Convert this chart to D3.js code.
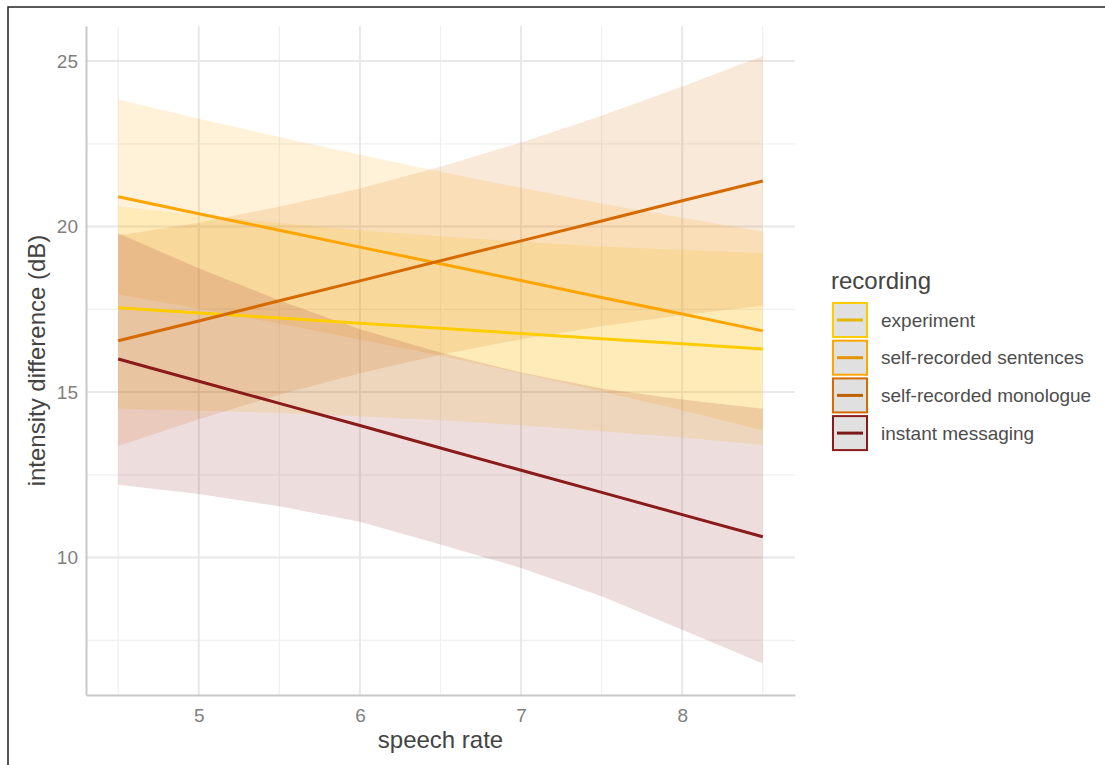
<!DOCTYPE html>
<html>
<head>
<meta charset="utf-8">
<script src="https://cdn.jsdelivr.net/npm/d3@7"></script>
<style>
  body { margin: 0; background: #fff; }
  svg { display: block; font-family: "Liberation Sans", Arial, sans-serif; }
</style>
</head>
<body>
<svg width="1105" height="765"></svg>
<script>
// speech rate values where the predictions were read
const speechRate = [4.5, 5, 5.5, 6, 6.5, 7, 7.5, 8, 8.5];

const recordings = ["experiment", "self-recorded sentences", "self-recorded monologue", "instant messaging"];
const colors = ["#FFCC00", "#FFA500", "#D56A00", "#8B1A1A"];

const expFit = [17.55, 17.39, 17.24, 17.08, 16.93, 16.77, 16.61, 16.46, 16.30];
const expLow = [14.49, 14.44, 14.37, 14.27, 14.15, 14.00, 13.82, 13.63, 13.40];
const expHigh = [20.61, 20.35, 20.11, 19.89, 19.71, 19.54, 19.40, 19.29, 19.20];

const sentFit = [20.90, 20.39, 19.89, 19.38, 18.88, 18.37, 17.86, 17.36, 16.85];
const sentLow = [17.95, 17.52, 17.07, 16.59, 16.10, 15.57, 15.02, 14.45, 13.85];
const sentHigh = [23.85, 23.26, 22.71, 22.17, 21.66, 21.17, 20.70, 20.27, 19.85];

const monoFit = [16.55, 17.15, 17.76, 18.36, 18.97, 19.57, 20.17, 20.78, 21.38];
const monoLow = [13.37, 14.18, 14.92, 15.57, 16.13, 16.60, 16.99, 17.33, 17.61];
const monoHigh = [19.73, 20.12, 20.60, 21.15, 21.81, 22.54, 23.35, 24.23, 25.15];

const imFit = [16.00, 15.33, 14.66, 13.99, 13.31, 12.64, 11.97, 11.30, 10.63];
const imLow = [12.20, 11.92, 11.55, 11.08, 10.40, 9.69, 8.83, 7.82, 6.80];
const imHigh = [19.80, 18.74, 17.77, 16.90, 16.20, 15.59, 15.11, 14.78, 14.50];

const xTicks = [5, 6, 7, 8];
const yTicks = [10, 15, 20, 25];

const fits = [expFit, sentFit, monoFit, imFit];
const lows = [expLow, sentLow, monoLow, imLow];
const highs = [expHigh, sentHigh, monoHigh, imHigh];

const series = recordings.map((name, i) => ({
  name: name,
  color: colors[i],
  points: speechRate.map((x, j) => ({ x: x, fit: fits[i][j], lo: lows[i][j], hi: highs[i][j] }))
}));

const svg = d3.select("svg");

// outer frame
svg.append("rect")
  .attr("x", 8).attr("y", 7)
  .attr("width", 1120).attr("height", 780)
  .attr("fill", "none").attr("stroke", "#222").attr("stroke-width", 1.5);

const panelLeft = 86, panelRight = 795, panelTop = 26, panelBottom = 695;

const x = d3.scaleLinear().domain([4.3, 8.7]).range([panelLeft, panelRight]);
const y = d3.scaleLinear().domain([5.85, 26.06]).range([panelBottom, panelTop]);

// grid
const grid = svg.append("g");
const minorX = d3.range(4.5, 8.51, 1);
const minorY = [7.5, 12.5, 17.5, 22.5];
grid.selectAll(".minx").data(minorX).enter().append("line")
  .attr("x1", d => x(d)).attr("x2", d => x(d)).attr("y1", panelTop).attr("y2", panelBottom)
  .attr("stroke", "#f0f0f0").attr("stroke-width", 1.2);
grid.selectAll(".miny").data(minorY).enter().append("line")
  .attr("y1", d => y(d)).attr("y2", d => y(d)).attr("x1", panelLeft).attr("x2", panelRight)
  .attr("stroke", "#f0f0f0").attr("stroke-width", 1.2);
grid.selectAll(".majx").data(xTicks).enter().append("line")
  .attr("x1", d => x(d)).attr("x2", d => x(d)).attr("y1", panelTop).attr("y2", panelBottom)
  .attr("stroke", "#e8e8e8").attr("stroke-width", 2);
grid.selectAll(".majy").data(yTicks).enter().append("line")
  .attr("y1", d => y(d)).attr("y2", d => y(d)).attr("x1", panelLeft).attr("x2", panelRight)
  .attr("stroke", "#e8e8e8").attr("stroke-width", 2);

// ribbons
const area = d3.area()
  .x(d => x(d.x))
  .y0(d => y(d.lo))
  .y1(d => y(d.hi));

svg.append("g").selectAll("path").data(series).enter().append("path")
  .attr("d", d => area(d.points))
  .attr("fill", d => d.color)
  .attr("fill-opacity", 0.15);

// fitted lines
const line = d3.line().x(d => x(d.x)).y(d => y(d.fit));
svg.append("g").selectAll("path").data(series).enter().append("path")
  .attr("d", d => line(d.points))
  .attr("fill", "none")
  .attr("stroke", d => d.color)
  .attr("stroke-width", 3);

// axes
const xAxis = svg.append("g")
  .attr("transform", "translate(0," + panelBottom + ")")
  .call(d3.axisBottom(x).tickValues(xTicks).tickFormat(d3.format("d")).tickSize(0).tickPadding(14));
const yAxis = svg.append("g")
  .attr("transform", "translate(" + panelLeft + ",0)")
  .call(d3.axisLeft(y).tickValues(yTicks).tickFormat(d3.format("d")).tickSize(0).tickPadding(8));

[xAxis, yAxis].forEach(a => {
  a.select(".domain").attr("stroke", "#c8c8c8").attr("stroke-width", 2);
  a.selectAll("text").attr("fill", "#808080").attr("font-size", 19)
    .attr("font-family", "'Liberation Sans', Arial, sans-serif");
});

svg.append("text")
  .attr("x", (panelLeft + panelRight) / 2).attr("y", 748)
  .attr("text-anchor", "middle")
  .attr("font-size", 24).attr("fill", "#444")
  .text("speech rate");

svg.append("text")
  .attr("transform", "translate(45," + (panelTop + panelBottom) / 2 + ") rotate(-90)")
  .attr("text-anchor", "middle")
  .attr("font-size", 24).attr("fill", "#444")
  .text("intensity difference (dB)");

// legend
const legend = svg.append("g").attr("transform", "translate(832,0)");
legend.append("text")
  .attr("x", -1).attr("y", 289)
  .attr("font-size", 24).attr("fill", "#444")
  .text("recording");

const keys = legend.selectAll(".key").data(series).enter().append("g")
  .attr("transform", (d, i) => "translate(0," + (302 + i * 37.7) + ")");
keys.append("rect")
  .attr("x", 1).attr("y", 1).attr("width", 34).attr("height", 34)
  .attr("fill", "#e0e0e0")
  .attr("stroke", d => d.color).attr("stroke-width", 2);
keys.append("line")
  .attr("x1", 5).attr("x2", 31).attr("y1", 18).attr("y2", 18)
  .attr("stroke", d => d3.color(d.color).darker(0.3)).attr("stroke-width", 3);
keys.append("text")
  .attr("x", 49).attr("y", 18).attr("dy", "0.35em")
  .attr("font-size", 19).attr("fill", "#4d4d4d")
  .text(d => d.name);
</script>
</body>
</html>
